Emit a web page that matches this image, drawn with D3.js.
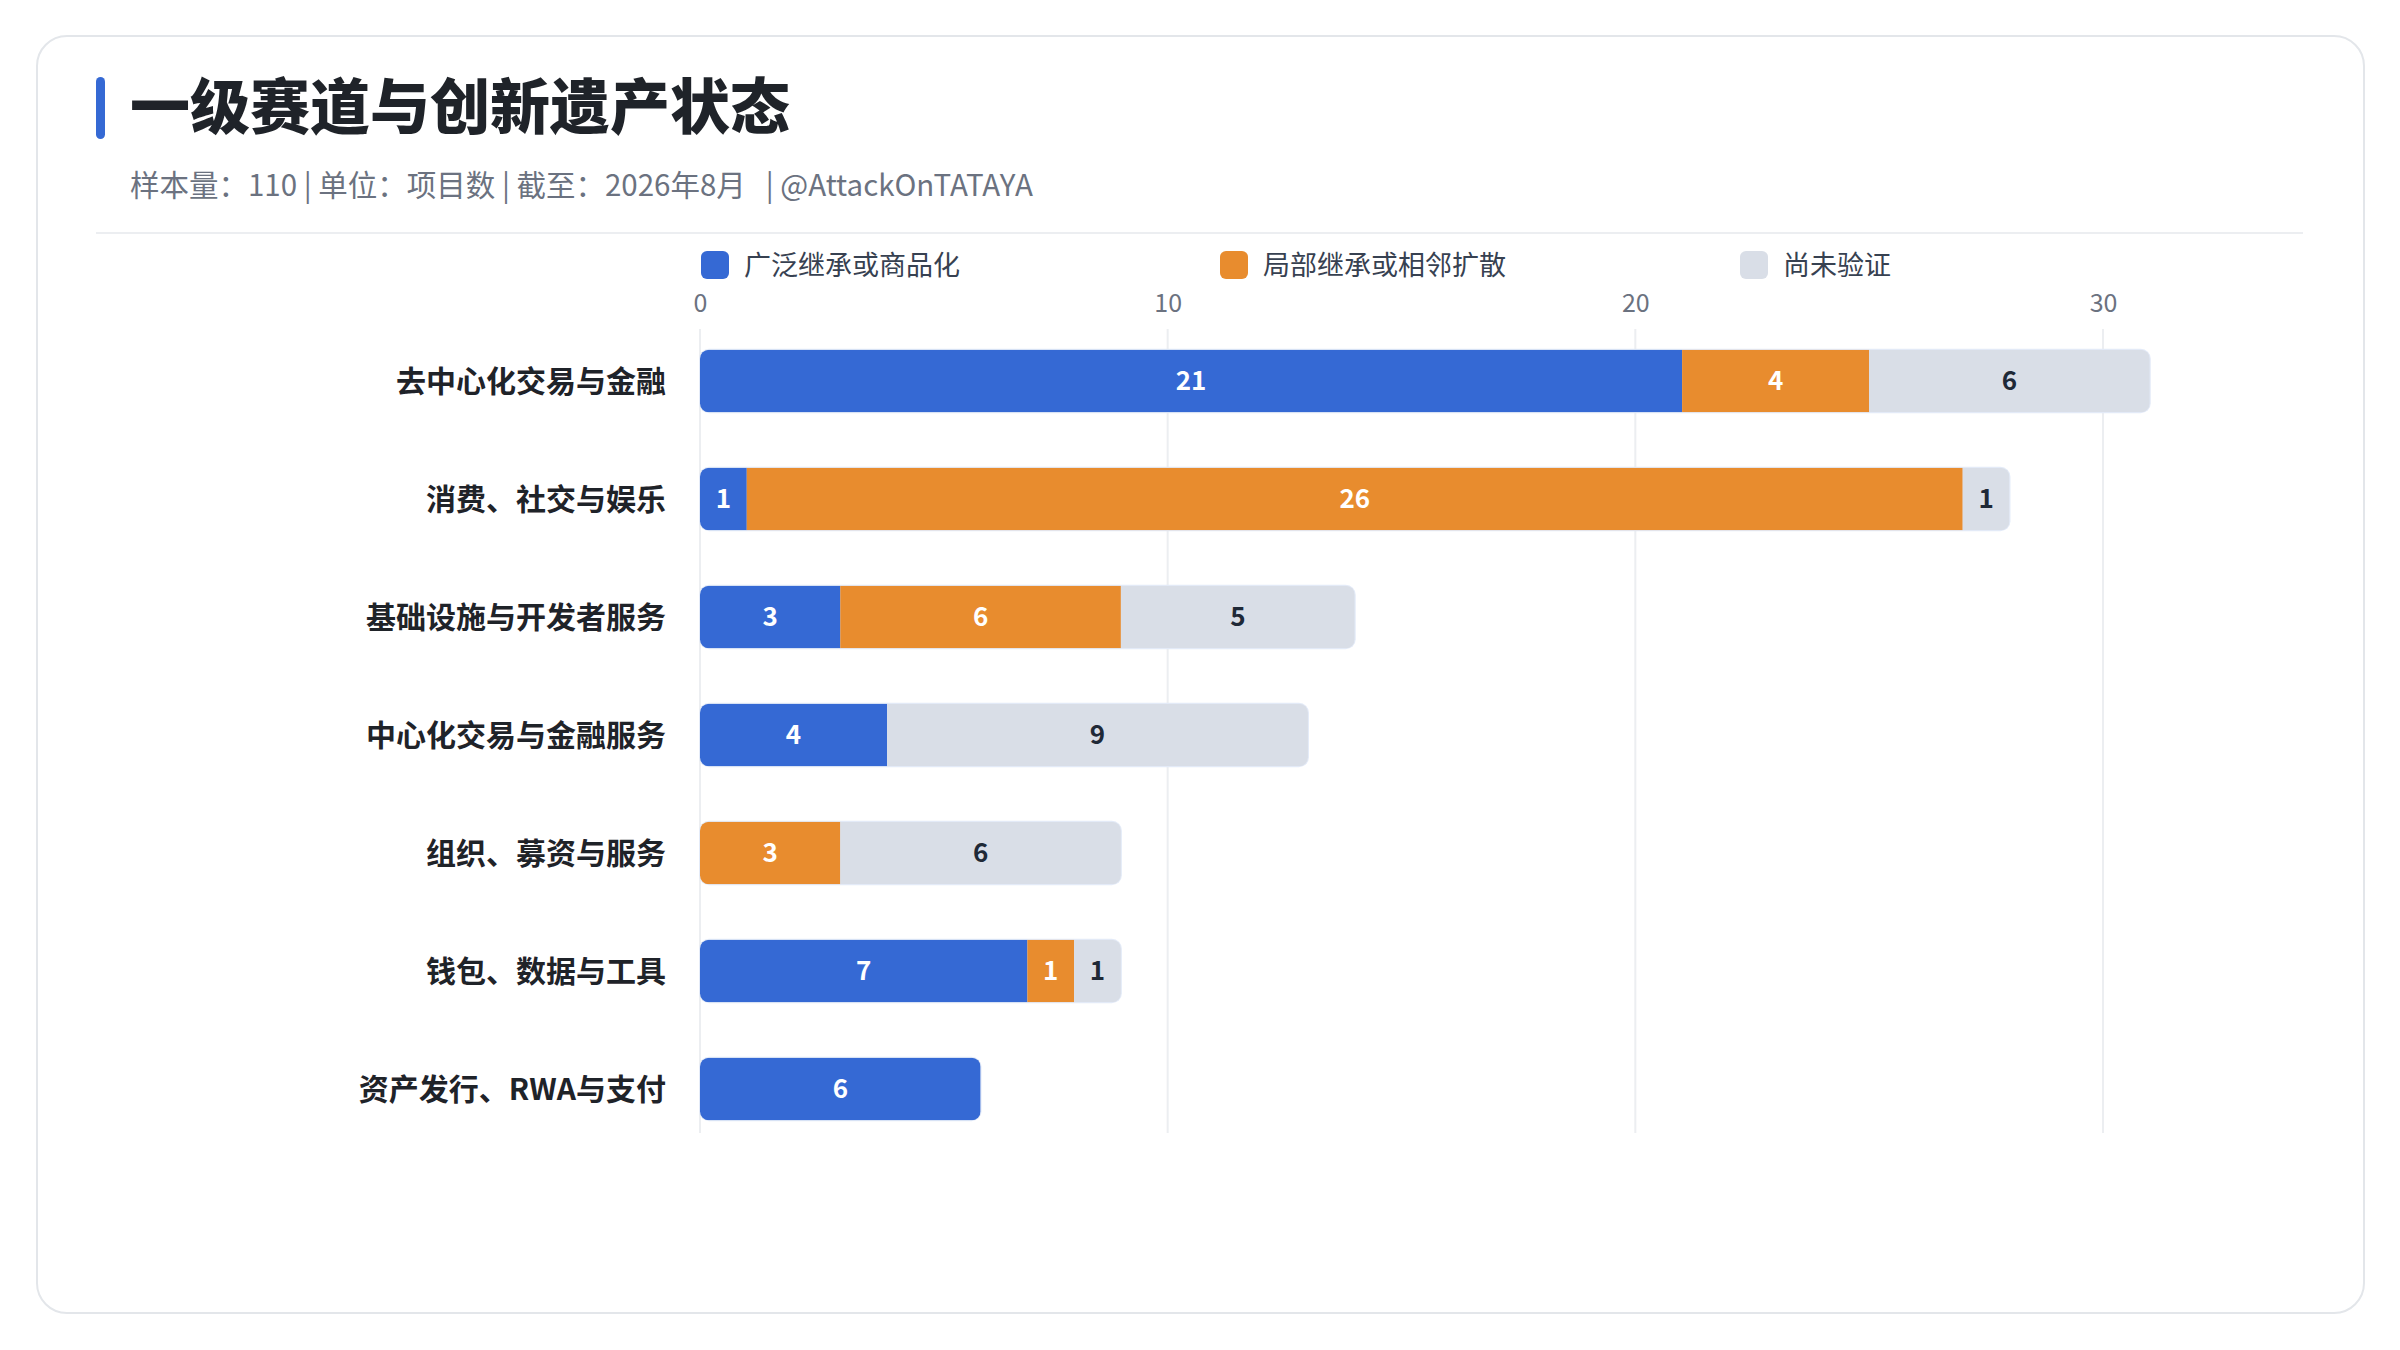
<html>
<head>
<meta charset="utf-8">
<title>一级赛道与创新遗产状态</title>
<script src="https://cdnjs.cloudflare.com/ajax/libs/d3/7.8.5/d3.min.js"></script>
<style>
  body { margin: 0; background: #fff; font-family: "Noto Sans CJK SC", "Noto Sans", sans-serif; }
</style>
</head>
<body>
<div id="chart"></div>
<script>
  // data
  const categories = ["去中心化交易与金融", "消费、社交与娱乐", "基础设施与开发者服务", "中心化交易与金融服务", "组织、募资与服务", "钱包、数据与工具", "资产发行、RWA与支付"];
  const seriesNames = ["广泛继承或商品化", "局部继承或相邻扩散", "尚未验证"];
  const broad = [21, 1, 3, 4, 0, 7, 6];
  const partial = [4, 26, 6, 0, 3, 1, 0];
  const unverified = [6, 1, 5, 9, 6, 1, 0];
  const xTicks = [0, 10, 20, 30];

  const colors = ["#3569d4", "#e88c2e", "#d9dee7"];
  const labelColors = ["#fff", "#fff", "#1f2937"];

  const W = 2400, H = 1350;
  const svg = d3.select('#chart').append('svg').attr('width', W).attr('height', H);

  // card
  svg.append('rect')
    .attr('x', 37).attr('y', 36).attr('width', 2327).attr('height', 1277)
    .attr('rx', 30).attr('fill', '#fff').attr('stroke', '#e3e6ea').attr('stroke-width', 2);

  // title
  svg.append('rect').attr('x', 96).attr('y', 77).attr('width', 9).attr('height', 62).attr('rx', 4.5).attr('fill', '#3569d4');
  svg.append('text').attr('x', 130).attr('y', 129)
    .text('一级赛道与创新遗产状态')
    .attr('font-size', 60).attr('font-weight', 900).attr('fill', '#1f2329');
  svg.append('text').attr('x', 130).attr('y', 196)
    .text('样本量：110 | 单位：项目数 | 截至：2026年8月 \u00a0 | @AttackOnTATAYA')
    .attr('font-size', 29.5).attr('fill', '#6b7280');
  svg.append('line').attr('x1', 96).attr('x2', 2303).attr('y1', 233).attr('y2', 233)
    .attr('stroke', '#eceef1').attr('stroke-width', 2);

  // legend
  const legendX = [701, 1220, 1740];
  const legend = svg.append('g').selectAll('g').data(seriesNames).join('g')
    .attr('transform', (d, i) => `translate(${legendX[i]}, 265)`);
  legend.append('rect').attr('x', 0).attr('y', -14).attr('width', 28).attr('height', 28).attr('rx', 6)
    .attr('fill', (d, i) => colors[i]);
  legend.append('text').attr('x', 43).attr('y', 10).text(d => d).attr('font-size', 27).attr('fill', '#374151');

  // scales
  const x = d3.scaleLinear().domain([0, 30]).range([700, 2103]);
  const y = d3.scaleBand().domain(categories).range([322, 1148]).paddingInner(0.47).paddingOuter(0.235);

  // grid + top axis labels
  svg.append('g').selectAll('line').data(xTicks).join('line')
    .attr('x1', d => x(d)).attr('x2', d => x(d)).attr('y1', 329).attr('y2', 1133)
    .attr('stroke', '#eceef1').attr('stroke-width', 2);
  const axis = svg.append('g').attr('transform', 'translate(0, 312)')
    .call(d3.axisTop(x).tickValues(xTicks).tickSize(0).tickPadding(0));
  axis.select('.domain').remove();
  axis.selectAll('text').attr('font-size', 25).attr('fill', '#6b7280')
    .attr('font-family', '"Noto Sans CJK SC", "Noto Sans", sans-serif');

  // stacked bars
  const rows = categories.map((c, i) => ({ cat: c, vals: [broad[i], partial[i], unverified[i]] }));
  const defs = svg.append('defs');
  rows.forEach((r, i) => {
    const total = d3.sum(r.vals);
    defs.append('clipPath').attr('id', 'clip' + i).append('rect')
      .attr('x', x(0)).attr('y', y(r.cat)).attr('width', x(total) - x(0)).attr('height', y.bandwidth()).attr('rx', 9);
  });

  const rowG = svg.append('g').selectAll('g').data(rows).join('g');
  rowG.each(function (r, i) {
    const g = d3.select(this);
    const total = d3.sum(r.vals);
    // soft outline
    g.append('rect')
      .attr('x', x(0) - 1).attr('y', y(r.cat) - 1).attr('width', x(total) - x(0) + 2).attr('height', y.bandwidth() + 2)
      .attr('rx', 10).attr('fill', '#e4ebf8');
    const segG = g.append('g').attr('clip-path', `url(#clip${i})`);
    let acc = 0;
    r.vals.forEach((v, k) => {
      if (v > 0) {
        segG.append('rect')
          .attr('x', x(acc)).attr('y', y(r.cat)).attr('width', x(acc + v) - x(acc)).attr('height', y.bandwidth())
          .attr('fill', colors[k]);
        g.append('text')
          .attr('x', (x(acc) + x(acc + v)) / 2).attr('y', y(r.cat) + y.bandwidth() / 2)
          .attr('dy', '0.36em').attr('text-anchor', 'middle')
          .attr('font-size', 26).attr('font-weight', 700).attr('fill', labelColors[k])
          .text(v);
      }
      acc += v;
    });
  });

  // category labels
  svg.append('g').selectAll('text').data(categories).join('text')
    .attr('x', 666).attr('y', d => y(d) + y.bandwidth() / 2).attr('dy', '0.36em')
    .attr('text-anchor', 'end').attr('font-size', 30).attr('font-weight', 700).attr('fill', '#1f2329')
    .text(d => d);
</script>
</body>
</html>
